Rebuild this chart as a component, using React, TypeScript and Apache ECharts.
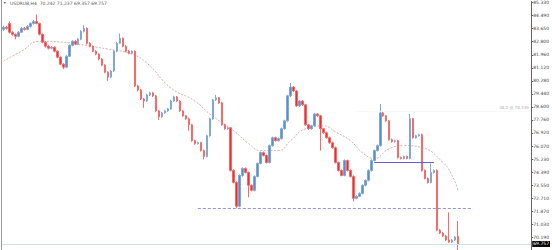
import React, { useEffect, useRef } from "react";
import * as echarts from "echarts";

const headerText = "USDRUB,H4  70.242 71.237 69.357 69.757";
const priceTicks = [85.33, 84.49, 83.65, 82.8, 81.96, 81.12, 80.28, 79.44, 78.6, 77.76, 76.92, 76.07, 75.23, 74.39, 73.55, 72.71, 71.87, 71.03, 70.19];
const slotCount = 177;

// [open, close, low, high]
const candles: number[][] = [
  [83.60, 83.73, 83.50, 83.85], [83.73, 83.66, 83.58, 83.82], [83.98, 83.41, 83.32, 84.11], [83.41, 83.28, 83.18, 83.47],
  [83.28, 83.15, 82.96, 83.33], [83.15, 83.41, 83.08, 83.48], [83.41, 83.66, 83.36, 83.74], [83.66, 83.60, 83.52, 83.75],
  [83.60, 83.79, 83.55, 83.88], [83.79, 83.98, 83.72, 84.05], [83.98, 84.11, 83.90, 84.20], [84.11, 83.98, 83.92, 84.56],
  [83.98, 83.28, 83.20, 84.02], [83.28, 82.77, 82.70, 83.33], [82.77, 82.51, 82.42, 82.85], [82.51, 82.38, 82.30, 82.60],
  [82.38, 82.45, 82.32, 82.52], [82.45, 82.19, 82.12, 82.50], [82.19, 81.80, 81.74, 82.25], [81.80, 81.35, 81.28, 81.86],
  [81.35, 81.16, 81.03, 81.42], [81.16, 81.87, 81.10, 81.93], [81.87, 82.57, 81.82, 82.63], [82.57, 82.83, 82.50, 82.90],
  [82.83, 82.64, 82.58, 82.90], [82.64, 82.96, 82.58, 83.03], [82.96, 83.47, 82.90, 83.55], [83.47, 83.66, 83.40, 83.86],
  [83.66, 82.70, 82.62, 83.72], [82.70, 82.51, 82.44, 82.78], [82.51, 82.19, 82.12, 82.56], [82.19, 82.00, 81.93, 82.26],
  [82.00, 81.68, 81.60, 82.05], [81.68, 81.29, 81.22, 81.74], [81.29, 80.84, 80.77, 81.35], [80.84, 80.52, 80.27, 80.90],
  [80.52, 80.91, 80.45, 80.98], [80.91, 82.19, 80.85, 82.25], [82.19, 82.70, 82.12, 82.78], [82.70, 83.02, 82.65, 83.34],
  [83.02, 82.51, 82.44, 83.08], [82.51, 82.19, 82.12, 82.58], [82.19, 82.06, 81.99, 82.26], [82.06, 82.19, 82.00, 82.25],
  [82.19, 79.95, 79.88, 82.24], [79.95, 79.69, 79.60, 80.02], [79.69, 79.11, 79.04, 79.76], [79.11, 78.98, 78.54, 79.18],
  [78.98, 79.37, 78.92, 79.44], [79.37, 79.50, 79.30, 79.58], [79.50, 79.31, 79.24, 79.57], [79.31, 78.34, 78.28, 79.37],
  [78.34, 77.96, 77.76, 78.40], [77.96, 78.21, 77.90, 78.28], [78.21, 78.34, 78.15, 78.40], [78.34, 78.47, 78.28, 78.53],
  [78.47, 78.98, 78.42, 79.05], [78.98, 79.24, 78.92, 79.31], [79.24, 78.98, 78.92, 79.30], [78.98, 78.34, 78.28, 79.04],
  [78.34, 78.02, 77.96, 78.40], [78.02, 77.83, 77.76, 78.08], [77.83, 77.44, 77.06, 77.90], [77.44, 76.42, 76.35, 77.50],
  [76.42, 76.23, 76.16, 76.48], [76.23, 76.29, 76.17, 76.36], [76.29, 75.78, 75.72, 76.35], [75.78, 75.40, 75.21, 75.85],
  [75.40, 76.74, 75.34, 76.80], [76.74, 77.83, 76.68, 77.90], [77.83, 79.05, 77.77, 79.12], [79.05, 79.18, 78.98, 79.37],
  [79.18, 78.86, 78.80, 79.24], [78.86, 77.44, 77.38, 78.92], [77.44, 77.19, 77.12, 77.50], [77.19, 77.25, 77.12, 77.32],
  [77.25, 74.50, 74.43, 77.30], [74.50, 73.73, 73.66, 74.57], [73.73, 72.19, 72.06, 73.80], [72.19, 74.18, 72.12, 74.25],
  [74.18, 74.63, 74.10, 74.70], [74.63, 74.37, 74.30, 74.70], [74.37, 73.54, 72.77, 74.43], [73.54, 73.22, 73.15, 73.60],
  [73.22, 74.11, 73.15, 74.18], [74.11, 74.95, 74.05, 75.02], [74.95, 75.65, 74.90, 75.72], [75.65, 75.46, 75.40, 75.72],
  [75.46, 75.01, 74.95, 75.52], [75.01, 76.10, 74.95, 76.17], [76.10, 76.61, 76.04, 76.68], [76.61, 76.42, 76.36, 76.68],
  [76.42, 76.55, 76.36, 76.62], [76.55, 77.19, 76.49, 77.26], [77.19, 77.70, 77.12, 77.77], [77.70, 79.31, 77.64, 79.38],
  [79.31, 79.88, 79.24, 80.14], [79.88, 79.62, 79.56, 79.95], [79.62, 78.66, 78.60, 79.68], [78.66, 78.98, 78.60, 79.05],
  [78.98, 78.73, 78.66, 79.04], [78.73, 77.44, 77.38, 78.79], [77.44, 77.19, 77.12, 77.50], [77.19, 77.38, 77.12, 77.44],
  [77.38, 78.14, 77.32, 78.21], [78.14, 78.02, 77.96, 78.20], [78.02, 77.19, 75.78, 78.08], [77.19, 76.93, 76.86, 77.25],
  [76.93, 76.61, 76.55, 77.00], [76.61, 76.29, 76.22, 76.68], [76.29, 75.97, 75.90, 76.36], [75.97, 75.01, 74.95, 76.04],
  [75.01, 74.50, 74.43, 75.08], [74.50, 74.18, 74.12, 74.57], [74.18, 75.14, 74.12, 75.21], [75.14, 74.50, 74.43, 75.20],
  [74.50, 74.11, 74.05, 74.57], [74.11, 72.70, 72.51, 74.18], [72.70, 72.83, 72.64, 72.90], [72.83, 73.02, 72.77, 73.09],
  [73.02, 73.54, 72.96, 73.60], [73.54, 73.86, 73.48, 73.92], [73.86, 74.50, 73.80, 74.57], [74.50, 75.14, 74.43, 75.21],
  [75.14, 75.78, 75.08, 75.85], [75.78, 76.10, 75.72, 76.17], [76.10, 78.21, 76.04, 78.79], [78.21, 78.02, 77.96, 78.28],
  [78.02, 77.70, 77.64, 78.08], [77.70, 76.48, 76.42, 77.76], [76.48, 76.36, 76.29, 76.55], [76.36, 76.42, 76.29, 76.48],
  [76.42, 75.33, 75.27, 76.48], [75.33, 75.27, 75.21, 75.40], [75.27, 75.40, 75.21, 75.46], [75.40, 75.27, 75.21, 75.46],
  [75.27, 77.83, 75.21, 78.14], [77.83, 76.61, 76.55, 77.90], [76.61, 76.74, 76.55, 76.80], [76.74, 76.80, 76.68, 76.87],
  [76.80, 74.50, 74.43, 76.87], [74.50, 73.98, 73.92, 74.57], [73.98, 73.73, 73.66, 74.05], [73.73, 74.37, 73.66, 74.95],
  [74.37, 74.50, 74.30, 74.57], [74.50, 70.65, 70.58, 74.57], [70.65, 70.46, 70.40, 70.72], [70.46, 70.27, 70.20, 70.53],
  [70.27, 70.01, 69.95, 70.34], [70.01, 69.88, 69.82, 71.80], [69.88, 70.01, 69.82, 70.08], [70.01, 70.21, 69.95, 70.28],
  [70.242, 69.757, 69.357, 71.237],
];

// moving average, read at sample bars: [bar index, value]
const maPoints: number[][] = [
  [0, 81.55], [6, 82.19], [12, 82.83], [20, 82.77], [29, 82.51], [35, 82.32], [43, 82.0], [48, 81.42],
  [56, 79.82], [64, 78.98], [69, 78.14], [77, 77.06], [82, 76.23], [86, 75.78], [92, 75.78], [96, 76.42],
  [101, 77.19], [107, 77.38], [111, 76.99], [116, 76.42], [120, 75.65], [124, 75.27], [129, 75.91],
  [134, 76.1], [140, 75.97], [147, 75.01], [150, 74.18], [152, 73.22],
];

const supportLevel = 72.06;
const supportRange = [65, 157];
const pivotLevel = 75.01;
const pivotRange = [124, 144];
const fibLevel = 78.349;
const fibRange = [118, 176];
const fibText = "38.2 @ 78.349";
const lastPrice = 69.757;

const UP = "#5a8ec8";
const DOWN = "#f22b2b";

export default function App() {
  const ref = useRef<HTMLDivElement>(null);
  useEffect(() => {
    if (!ref.current) return;
    const chart = echarts.init(ref.current, undefined, { renderer: "svg" });
    const cats = Array.from({ length: slotCount }, (_, i) => String(i));
    chart.setOption({
      animation: false,
      backgroundColor: "#ffffff",
      textStyle: { fontFamily: "DejaVu Sans" },
      grid: { left: 2, right: 14, top: 0, bottom: 0, containLabel: false },
      xAxis: {
        type: "category",
        data: cats,
        boundaryGap: true,
        axisLine: { show: false },
        axisTick: { show: false },
        axisLabel: { show: false },
        splitLine: { show: false },
      },
      yAxis: {
        type: "value",
        position: "right",
        min: 69.37,
        max: 85.394,
        scale: true,
        axisLine: { show: true, lineStyle: { color: "#666", width: 1 } },
        axisTick: { show: true, length: 2, lineStyle: { color: "#666" }, customValues: priceTicks },
        axisLabel: {
          show: true,
          customValues: priceTicks,
          formatter: (v: number) => v.toFixed(3),
          fontSize: 4.5,
          color: "#444",
          margin: 2,
        },
        splitLine: { show: false },
      },
      graphic: [
        { type: "line", shape: { x1: 1.5, y1: 0, x2: 1.5, y2: 250 }, style: { stroke: "#999", lineWidth: 1 } },
        { type: "text", left: 3, top: 1, style: { text: "▼", fontSize: 3.5, fill: "#555" } },
        { type: "text", left: 10, top: 1, style: { text: headerText, fontSize: 4.5, fill: "#555", fontFamily: "DejaVu Sans" } },
      ],
      series: [
        {
          type: "candlestick",
          data: candles,
          barWidth: 2,
          itemStyle: { color: UP, color0: DOWN, borderColor: "#7ea8d8", borderColor0: "#f76a6a", borderWidth: 1 },
          markLine: {
            silent: true,
            symbol: ["none", "none"],
            animation: false,
            data: [
              [
                { coord: [String(supportRange[0]), supportLevel], lineStyle: { color: "#9494e8", type: [3, 2], width: 1 }, label: { show: false } },
                { coord: [String(supportRange[1]), supportLevel] },
              ],
              [
                { coord: [String(pivotRange[0]), pivotLevel], lineStyle: { color: "#6262d6", type: "solid", width: 1 }, label: { show: false } },
                { coord: [String(pivotRange[1]), pivotLevel] },
              ],
              [
                {
                  coord: [String(fibRange[0]), fibLevel],
                  lineStyle: { color: "#f0f0f0", type: "dotted", width: 1 },
                  label: { show: true, position: "insideEndTop", formatter: fibText, fontSize: 4, color: "#b0b0b0", distance: 1 },
                },
                { coord: [String(fibRange[1]), fibLevel] },
              ],
              {
                yAxis: lastPrice,
                lineStyle: { color: "#cfdfee", type: "solid", width: 1 },
                label: {
                  show: true,
                  position: "end",
                  formatter: lastPrice.toFixed(3),
                  fontSize: 4.5,
                  color: "#fff",
                  backgroundColor: "#000",
                  padding: [0.5, 1],
                  distance: 1,
                },
              },
            ],
          },
        },
        {
          type: "line",
          data: maPoints,
          smooth: true,
          showSymbol: false,
          symbol: "none",
          lineStyle: { color: "#dcaeae", width: 1, type: [2, 1.5] },
          z: 1,
        },
      ],
    });
    return () => chart.dispose();
  }, []);
  return <div ref={ref} style={{ position: "fixed", left: 0, top: 0, width: 552, height: 250 }} />;
}
